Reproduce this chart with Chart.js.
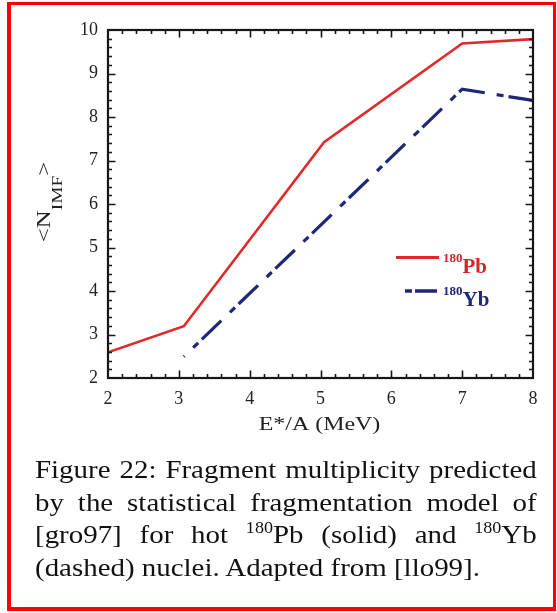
<!DOCTYPE html>
<html>
<head>
<meta charset="utf-8">
<script src="https://cdn.jsdelivr.net/npm/chart.js@4/dist/chart.umd.min.js"></script>
<style>
  html, body { margin: 0; padding: 0; background: #fff; }
  #page { position: relative; width: 557px; height: 613px; overflow: hidden; background: #fff; }
  #frame {
    position: absolute; left: 7px; top: 2px; width: 549px; height: 609px;
    box-sizing: border-box; border-style: solid; border-color: #ff0000;
    border-width: 3px 3px 4px 4px;
  }
  #plot { position: absolute; left: 0; top: 0; }
  #caption {
    position: absolute; left: 35px; top: 454px; width: 444px;
    transform: scaleX(1.13); transform-origin: 0 0;
    font-family: "Liberation Serif", "Times New Roman", serif;
    font-size: 25.6px; line-height: 32.5px; color: #111;
  }
  #caption .ln { text-align: justify; text-align-last: justify; white-space: nowrap; }
  #caption .ln.last { text-align: left; text-align-last: left; }
  #caption sup { font-size: 16px; line-height: 0; vertical-align: 10px; }
</style>
</head>
<body>
<div id="page">
  <canvas id="plot" width="557" height="613"></canvas>
  <div id="frame"></div>
  <div id="caption">
    <div class="ln">Figure 22: Fragment multiplicity predicted</div>
    <div class="ln">by the statistical fragmentation model of</div>
    <div class="ln">[gro97] for hot <sup>180</sup>Pb (solid) and <sup>180</sup>Yb</div>
    <div class="ln last">(dashed) nuclei. Adapted from [llo99].</div>
  </div>
</div>
<script>
// Excitation energy per nucleon (MeV) and mean IMF multiplicity
const pbEnergy = [2, 3.07, 5.05, 7, 8];
const pbMultiplicity = [2.59, 3.19, 7.42, 9.69, 9.79];
const ybEnergy = [3.07, 7, 8];
const ybMultiplicity = [2.49, 8.64, 8.38];

// Axis ranges and tick labels
const xTickLabels = ['2', '3', '4', '5', '6', '7', '8'];
const yTickLabels = ['2', '3', '4', '5', '6', '7', '8', '9', '10'];
const xTitle = 'E*/A (MeV)';

// Legend entries
const massNumber = '180';
const seriesNames = ['Pb', 'Yb'];
const seriesColors = ['#e02a2a', '#1f2878'];
const legendTextColors = ['#d42424', '#1f2878'];

const SERIF = '"Liberation Serif", "Times New Roman", serif';

const toPoints = (xs, ys) => xs.map((v, i) => ({ x: v, y: ys[i] }));

// Frame with inward major/minor ticks on all four sides
const frameTicks = {
  id: 'frameTicks',
  afterDatasetsDraw(chart) {
    const { ctx, chartArea: a, scales: { x, y } } = chart;
    ctx.save();
    ctx.strokeStyle = '#161616';
    ctx.lineWidth = 1.6;
    ctx.beginPath();
    const xMin = Number(xTickLabels[0]), xMax = Number(xTickLabels[xTickLabels.length - 1]);
    const nx = Math.round((xMax - xMin) / 0.2);
    for (let i = 1; i < nx; i++) {
      const px = Math.round(x.getPixelForValue(xMin + i * 0.2)) + 0.5;
      const len = i % 5 === 0 ? 7.5 : 4;
      ctx.moveTo(px, a.bottom); ctx.lineTo(px, a.bottom - len);
      ctx.moveTo(px, a.top); ctx.lineTo(px, a.top + len);
    }
    const yMin = Number(yTickLabels[0]), yMax = Number(yTickLabels[yTickLabels.length - 1]);
    const ny = Math.round((yMax - yMin) / 0.2);
    for (let i = 1; i < ny; i++) {
      const py = Math.round(y.getPixelForValue(yMin + i * 0.2)) + 0.5;
      const len = i % 5 === 0 ? 7.5 : 4;
      ctx.moveTo(a.left, py); ctx.lineTo(a.left + len, py);
      ctx.moveTo(a.right, py); ctx.lineTo(a.right - len, py);
    }
    ctx.stroke();
    ctx.lineWidth = 2.2;
    ctx.strokeRect(a.left, a.top, a.right - a.left, a.bottom - a.top);
    ctx.restore();
  }
};

// Axis titles: x title below the axis, rotated y title with subscript
const axisTitles = {
  id: 'axisTitles',
  afterDraw(chart) {
    const { ctx, chartArea: a } = chart;
    ctx.save();
    ctx.fillStyle = '#222';
    ctx.textBaseline = 'alphabetic';
    ctx.textAlign = 'center';
    ctx.font = '18px ' + SERIF;
    ctx.translate((a.left + a.right) / 2 - 1, 430);
    ctx.scale(1.33, 1);
    ctx.fillText(xTitle, 0, 0);
    ctx.restore();

    const big = '18px ' + SERIF, small = '14px ' + SERIF;
    ctx.save();
    ctx.fillStyle = '#222';
    ctx.textBaseline = 'alphabetic';
    ctx.translate(50, 202);
    ctx.rotate(-Math.PI / 2);
    ctx.scale(1.38, 1);
    ctx.font = big;
    const w1 = ctx.measureText('<N').width;
    const w3 = ctx.measureText('>').width;
    ctx.font = small;
    const w2 = ctx.measureText('IMF').width;
    let sx = -(w1 + w2 + w3) / 2;
    ctx.font = big;
    ctx.fillText('<N', sx, 0);
    sx += w1;
    ctx.font = small;
    ctx.fillText('IMF', sx, 12);
    sx += w2;
    ctx.font = big;
    ctx.fillText('>', sx, 0);
    ctx.restore();
  }
};

// Legend with mass-number superscripts
const isoLegend = {
  id: 'isoLegend',
  afterDraw(chart) {
    const { ctx } = chart;
    const rows = [
      { x0: 396, x1: 439, y: 257.5, base: 272.5 },
      { x0: 405, x1: 437, y: 291, base: 305.5 }
    ];
    chart.data.datasets.forEach((ds, i) => {
      const r = rows[i];
      ctx.save();
      ctx.strokeStyle = ds.borderColor;
      ctx.lineWidth = i === 0 ? 3 : 3.5;
      ctx.setLineDash(i === 0 ? [] : [7, 3, 22, 3]);
      ctx.beginPath();
      ctx.moveTo(r.x0, r.y); ctx.lineTo(r.x1, r.y);
      ctx.stroke();
      ctx.setLineDash([]);
      ctx.fillStyle = legendTextColors[i];
      ctx.textBaseline = 'alphabetic';
      ctx.font = 'bold 13px ' + SERIF;
      ctx.fillText(massNumber, 443, r.base - 10.5);
      const sw = ctx.measureText(massNumber).width;
      ctx.font = 'bold 21px ' + SERIF;
      ctx.fillText(ds.label, 443 + sw, r.base);
      ctx.restore();
    });
  }
};

new Chart(document.getElementById('plot'), {
  type: 'line',
  data: {
    datasets: [
      {
        label: seriesNames[0],
        data: toPoints(pbEnergy, pbMultiplicity),
        borderColor: seriesColors[0],
        borderWidth: 2.6,
        pointRadius: 0,
        tension: 0,
        fill: false
      },
      {
        label: seriesNames[1],
        data: toPoints(ybEnergy, ybMultiplicity),
        borderColor: seriesColors[1],
        borderWidth: 3.2,
        borderDash: [27, 12, 7, 5],
        borderDashOffset: 26,
        pointRadius: 0,
        tension: 0,
        fill: false
      }
    ]
  },
  options: {
    responsive: false,
    animation: false,
    events: [],
    layout: { padding: { top: 30, left: 0, right: 24, bottom: 177 } },
    plugins: { legend: { display: false }, tooltip: { enabled: false }, title: { display: false } },
    scales: {
      x: {
        type: 'linear',
        min: Number(xTickLabels[0]),
        max: Number(xTickLabels[xTickLabels.length - 1]),
        grid: { display: false, drawTicks: false },
        border: { display: false },
        ticks: {
          stepSize: 1,
          padding: 10,
          color: '#222',
          font: { family: SERIF, size: 18 },
          callback: (v) => xTickLabels.includes(String(v)) ? String(v) : ''
        },
        title: { display: false },
        afterFit: (s) => { s.height = 58; }
      },
      y: {
        type: 'linear',
        min: Number(yTickLabels[0]),
        max: Number(yTickLabels[yTickLabels.length - 1]),
        grid: { display: false, drawTicks: false },
        border: { display: false },
        ticks: {
          stepSize: 1,
          padding: 10,
          color: '#222',
          font: { family: SERIF, size: 18 },
          callback: (v) => yTickLabels.includes(String(v)) ? String(v) : ''
        },
        afterFit: (s) => { s.width = 108; }
      }
    }
  },
  plugins: [frameTicks, axisTitles, isoLegend]
});
</script>
</body>
</html>
